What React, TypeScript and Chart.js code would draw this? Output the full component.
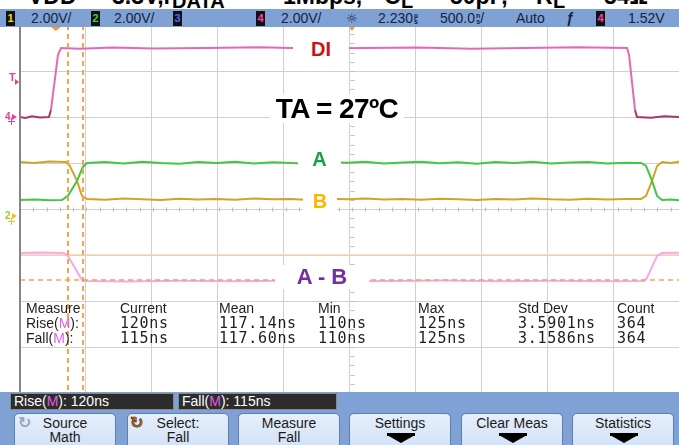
import React, { useEffect, useRef } from "react";
import { Chart, registerables } from "chart.js";

Chart.register(...registerables);

// ---- Scope settings (time in ns, 500 ns/div; volts on screen, 2 V/div) ----
const TIME_MAX = 4962;
const TIME_STEP = 500;
const VOLT_MIN = -8;
const VOLT_MAX = 8;
const VOLT_STEP = 2;
const SCREEN_CENTER_TIME = 2500;

// ---- Waveforms [time ns, volts on screen] ----
const TRACE_DI: [number, number][] = [
  [0, 4.0], [40, 3.96], [90, 4.03], [150, 3.98], [218, 4.0], [233, 4.3], [286, 6.7], [309, 7.0],
  [450, 6.97], [700, 7.02], [1000, 6.98], [1400, 7.0], [1800, 7.03], [2200, 6.98], [2600, 7.0],
  [3000, 7.02], [3400, 6.97], [3800, 7.0], [4200, 7.03], [4571, 7.0], [4586, 6.7], [4631, 4.3],
  [4646, 4.0], [4750, 3.97], [4850, 4.03], [4962, 4.0],
];
const TRACE_A: [number, number][] = [
  [0, 0.39], [110, 0.41], [220, 0.38], [316, 0.39], [361, 0.57], [429, 1.22], [474, 1.83], [505, 2.0],
  [640, 2.04], [780, 1.98], [920, 2.05], [1060, 2.0], [1200, 1.97], [1340, 2.04], [1480, 2.0],
  [1620, 2.05], [1760, 1.98], [1900, 2.03], [2040, 2.0], [2180, 1.97], [2320, 2.04], [2460, 2.01],
  [2600, 2.05], [2740, 1.98], [2880, 2.02], [3020, 2.05], [3160, 1.99], [3300, 2.03], [3440, 1.97],
  [3580, 2.04], [3720, 2.0], [3860, 2.05], [4000, 1.98], [4140, 2.02], [4280, 2.04], [4420, 1.98],
  [4560, 2.01], [4676, 2.0], [4714, 1.87], [4759, 1.22], [4797, 0.57], [4834, 0.39], [4900, 0.41],
  [4962, 0.38],
];
const TRACE_B: [number, number][] = [
  [0, 2.04], [110, 2.0], [220, 2.07], [346, 2.04], [376, 1.87], [429, 1.22], [467, 0.57], [505, 0.43],
  [640, 0.4], [780, 0.46], [920, 0.42], [1060, 0.39], [1200, 0.45], [1340, 0.41], [1480, 0.44],
  [1620, 0.4], [1760, 0.46], [1900, 0.42], [2040, 0.44], [2180, 0.39], [2320, 0.45], [2460, 0.42],
  [2600, 0.46], [2740, 0.41], [2880, 0.44], [3020, 0.4], [3160, 0.45], [3300, 0.42], [3440, 0.39],
  [3580, 0.44], [3720, 0.41], [3860, 0.46], [4000, 0.42], [4140, 0.4], [4280, 0.45], [4420, 0.41],
  [4560, 0.43], [4676, 0.43], [4714, 0.57], [4759, 1.22], [4797, 1.87], [4834, 2.04], [4900, 2.0],
  [4962, 2.06],
];
const TRACE_A_MINUS_B: [number, number][] = [
  [0, -1.91], [150, -1.89], [331, -1.91], [361, -2.04], [467, -3.09], [497, -3.13], [800, -3.15],
  [1200, -3.12], [1600, -3.14], [2000, -3.12], [2400, -3.15], [2800, -3.13], [3200, -3.11],
  [3600, -3.14], [4000, -3.12], [4400, -3.14], [4699, -3.13], [4721, -3.0], [4797, -2.04],
  [4834, -1.91], [4962, -1.9],
];
const THRESHOLD_UPPER = -2.0;
const THRESHOLD_LOWER = -3.09;
const CURSOR_TIMES = [361, 474];
const TRIGGER_TIME = 270;

// ---- Text content ----
const CHANNEL_SCALES = ["2.00V/", "2.00V/", "2.00V/"];
const TIME_DELAY = "2.230";
const TIME_SCALE = "500.0";
const TRIGGER_MODE = "Auto";
const TRIGGER_LEVEL = "1.52V";
const MEAS_HEADERS = ["Current", "Mean", "Min", "Max", "Std Dev", "Count"];
const RISE_VALUES = ["120ns", "117.14ns", "110ns", "125ns", "3.5901ns", "364"];
const FALL_VALUES = ["115ns", "117.60ns", "110ns", "125ns", "3.1586ns", "364"];
const BUTTON_LINE1 = ["Source", "Select:", "Measure", "Settings", "Clear Meas", "Statistics"];
const BUTTON_LINE2 = ["Math", "Fall", "Fall", "", "", ""];

// ---- Layout (page pixels) ----
const COL_X = [120, 219, 318, 418, 518, 617];
const BTN_X = [14, 127, 238, 349, 461, 572];

const SANS = '"Liberation Sans", Arial, Helvetica, sans-serif';
const MONO = '"DejaVu Sans Mono", "Liberation Mono", monospace';
const BLUE = "#7fa1d3";

const scopePlugin = {
  id: "scopeDecor",
  beforeDatasetsDraw(chart: any) {
    const { ctx, scales } = chart;
    const x = scales.x;
    const y = scales.y;
    ctx.save();
    ctx.strokeStyle = "#bdbdbd";
    ctx.lineWidth = 1;
    const y0 = Math.round(y.getPixelForValue(0)) + 0.5;
    for (let i = 0; i * (TIME_STEP / 5) <= TIME_MAX; i++) {
      const px = Math.round(x.getPixelForValue(i * (TIME_STEP / 5))) + 0.5;
      ctx.beginPath();
      ctx.moveTo(px, y0 - 2);
      ctx.lineTo(px, y0 + 2);
      ctx.stroke();
    }
    const xc = Math.round(x.getPixelForValue(SCREEN_CENTER_TIME)) + 0.5;
    const n = ((VOLT_MAX - VOLT_MIN) / VOLT_STEP) * 5;
    for (let i = 0; i <= n; i++) {
      const py = Math.round(y.getPixelForValue(VOLT_MIN + (i * VOLT_STEP) / 5)) + 0.5;
      ctx.beginPath();
      ctx.moveTo(xc - 2, py);
      ctx.lineTo(xc + 2, py);
      ctx.stroke();
    }
    ctx.restore();
  },
  afterDatasetsDraw(chart: any) {
    const { ctx, chartArea, scales } = chart;
    const x = scales.x;
    ctx.save();
    ctx.strokeStyle = "#f6a44a";
    ctx.lineWidth = 2;
    ctx.setLineDash([5, 4]);
    CURSOR_TIMES.forEach((t) => {
      const px = Math.round(x.getPixelForValue(t));
      ctx.beginPath();
      ctx.moveTo(px, chartArea.top);
      ctx.lineTo(px, chartArea.bottom);
      ctx.stroke();
    });
    ctx.setLineDash([]);
    ctx.fillStyle = "#f29a2e";
    [TRIGGER_TIME, SCREEN_CENTER_TIME].forEach((t, i) => {
      const px = x.getPixelForValue(t);
      const w = i === 0 ? 5 : 3;
      ctx.beginPath();
      ctx.moveTo(px - w, chartArea.top + 2);
      ctx.lineTo(px + w, chartArea.top + 2);
      ctx.lineTo(px, chartArea.top + 6);
      ctx.closePath();
      ctx.fill();
    });
    ctx.restore();
  },
};

function ChanBox({ left, num, color }: { left: number; num: string; color: string }) {
  return (
    <div
      style={{
        position: "absolute", left, top: 11, width: 9, height: 15, background: "#111",
        color, fontFamily: SANS, fontWeight: "bold", fontSize: 11, lineHeight: "15px", textAlign: "center",
      }}
    >
      {num}
    </div>
  );
}

function BarText({ left, children }: { left: number; children: any }) {
  return (
    <div
      style={{
        position: "absolute", left, top: 9, height: 18, lineHeight: "18px", fontFamily: SANS,
        fontSize: 14, color: "#15223f", whiteSpace: "nowrap",
      }}
    >
      {children}
    </div>
  );
}

function Unit({ a, b }: { a: string; b: string }) {
  return (
    <span
      style={{
        display: "inline-block", fontSize: 7, lineHeight: "6px", verticalAlign: "middle",
        marginLeft: 1, textAlign: "center", fontWeight: "bold",
      }}
    >
      {a}
      <br />
      {b}
    </span>
  );
}

function Label({ left, top, width, height, size, color, text }: any) {
  return (
    <div
      style={{
        position: "absolute", left, top, width, height, lineHeight: height + "px", background: "#fff",
        textAlign: "center", fontFamily: SANS, fontWeight: "bold", fontSize: size, color, whiteSpace: "nowrap",
        letterSpacing: size > 24 ? -0.6 : 0,
      }}
    >
      {text}
    </div>
  );
}

function TitlePiece({ left, text, sub }: { left: number; text: string; sub?: boolean }) {
  return (
    <div
      style={{
        position: "absolute", left, top: sub ? -9 : -16, fontFamily: SANS, fontWeight: "bold",
        fontSize: sub ? 20 : 23, lineHeight: sub ? "20px" : "24px", color: "#000", whiteSpace: "nowrap",
      }}
    >
      {text}
    </div>
  );
}

const M = () => <span style={{ color: "#e25ee2" }}>M</span>;

export default function App() {
  const ref = useRef<HTMLCanvasElement>(null);

  useEffect(() => {
    const pts = (arr: [number, number][]) => arr.map(([t, v]) => ({ x: t, y: v }));
    const line = (v: number) => [{ x: 0, y: v }, { x: TIME_MAX, y: v }];
    const chart = new Chart(ref.current as HTMLCanvasElement, {
      type: "line",
      data: {
        datasets: [
          {
            label: "DI", data: pts(TRACE_DI), borderColor: "#e468b6", borderWidth: 2,
            segment: {
              borderColor: (c: any) => (c.p0.parsed.y < 5 && c.p1.parsed.y < 5 ? "#a8366f" : undefined),
            },
          },
          { label: "A", data: pts(TRACE_A), borderColor: "#44c646", borderWidth: 2 },
          { label: "B", data: pts(TRACE_B), borderColor: "#d4a326", borderWidth: 2 },
          { label: "Lower", data: line(THRESHOLD_LOWER), borderColor: "#f2a456", borderWidth: 1.5, borderDash: [5, 4] },
          { label: "A - B", data: pts(TRACE_A_MINUS_B), borderColor: "#f4a9ec", borderWidth: 2 },
          { label: "Upper", data: line(THRESHOLD_UPPER), borderColor: "#f5d2ad", borderWidth: 1.5 },
        ] as any,
      },
      options: {
        animation: false,
        responsive: false,
        maintainAspectRatio: false,
        layout: { padding: 0 },
        events: [],
        elements: { point: { radius: 0, hitRadius: 0 }, line: { tension: 0, fill: false } },
        plugins: { legend: { display: false }, tooltip: { enabled: false } },
        scales: {
          x: {
            type: "linear", min: 0, max: TIME_MAX,
            afterFit: (s: any) => { s.height = 0; },
            ticks: { display: false, stepSize: TIME_STEP, includeBounds: false },
            grid: { color: "#d0d0d0", drawTicks: false },
            border: { display: false },
          },
          y: {
            type: "linear", min: VOLT_MIN, max: VOLT_MAX,
            afterFit: (s: any) => { s.width = 0; },
            ticks: { display: false, stepSize: VOLT_STEP, includeBounds: false },
            grid: { color: "#d0d0d0", drawTicks: false },
            border: { display: false },
          },
        },
      } as any,
      plugins: [scopePlugin],
    });
    return () => chart.destroy();
  }, []);

  return (
    <div
      style={{
        position: "fixed", left: 0, top: 0, width: 679, height: 445, overflow: "hidden",
        background: "#fff", fontFamily: SANS,
      }}
    >
      {/* cropped caption */}
      <TitlePiece left={28} text="VDD" />
      <TitlePiece left={88} text="=" />
      <TitlePiece left={112} text="3.3V," />
      <TitlePiece left={163} text="f" />
      <TitlePiece left={172} text="DATA" sub />
      <TitlePiece left={248} text="=" />
      <TitlePiece left={283} text="1Mbps," />
      <TitlePiece left={384} text="C" />
      <TitlePiece left={401} text="L" sub />
      <TitlePiece left={420} text="=" />
      <TitlePiece left={450} text="50pF," />
      <TitlePiece left={536} text="R" />
      <TitlePiece left={553} text="L" sub />
      <TitlePiece left={574} text="=" />
      <TitlePiece left={604} text="54Ω" />

      <canvas ref={ref} width={659} height={368} style={{ position: "absolute", left: 20, top: 25 }} />

      {/* left border */}
      <div style={{ position: "absolute", left: 19, top: 27, width: 2, height: 366, background: "#868686" }} />

      {/* top status bar */}
      <div style={{ position: "absolute", left: 0, top: 9, width: 679, height: 18, background: BLUE }} />
      <ChanBox left={6} num="1" color="#f0e000" />
      <BarText left={31}>{CHANNEL_SCALES[0]}</BarText>
      <ChanBox left={91} num="2" color="#3fd03f" />
      <BarText left={114}>{CHANNEL_SCALES[1]}</BarText>
      <ChanBox left={173} num="3" color="#4a6cff" />
      <ChanBox left={256} num="4" color="#ff3fa6" />
      <BarText left={281}>{CHANNEL_SCALES[2]}</BarText>
      <BarText left={346}>
        <span style={{ fontFamily: '"DejaVu Sans", sans-serif', fontSize: 13 }}>☼</span>
      </BarText>
      <BarText left={378}>
        {TIME_DELAY}
        <Unit a="µ" b="s" />
      </BarText>
      <BarText left={440}>
        {TIME_SCALE}
        <Unit a="n" b="s" />/
      </BarText>
      <BarText left={516}>{TRIGGER_MODE}</BarText>
      <BarText left={566}>
        <span style={{ fontStyle: "italic", fontWeight: "bold" }}>ƒ</span>
      </BarText>
      <ChanBox left={596} num="4" color="#ff3fa6" />
      <BarText left={628}>{TRIGGER_LEVEL}</BarText>

      {/* channel markers on the left */}
      <div style={{ position: "absolute", left: 9, top: 72, fontSize: 11, fontWeight: "bold", color: "#e0409a", lineHeight: "11px" }}>T</div>
      <div style={{ position: "absolute", left: 15, top: 79, width: 0, height: 0, borderTop: "3px solid transparent", borderBottom: "3px solid transparent", borderLeft: "4px solid #e0409a" }} />
      <div style={{ position: "absolute", left: 5, top: 111, fontSize: 10, fontWeight: "bold", color: "#e0409a", lineHeight: "11px" }}>4</div>
      <div style={{ position: "absolute", left: 12, top: 114, width: 0, height: 0, borderTop: "3px solid transparent", borderBottom: "3px solid transparent", borderLeft: "5px solid #e0409a" }} />
      <div style={{ position: "absolute", left: 8, top: 121, width: 7, height: 1, background: "#e0409a" }} />
      <div style={{ position: "absolute", left: 11, top: 118, width: 1, height: 7, background: "#e0409a" }} />
      <div style={{ position: "absolute", left: 5, top: 210, fontSize: 10, fontWeight: "bold", color: "#9ccc20", lineHeight: "11px" }}>2</div>
      <div style={{ position: "absolute", left: 12, top: 213, width: 0, height: 0, borderTop: "3px solid transparent", borderBottom: "3px solid transparent", borderLeft: "5px solid #f0c020" }} />
      <div style={{ position: "absolute", left: 8, top: 221, width: 7, height: 1, background: "#f0c020" }} />
      <div style={{ position: "absolute", left: 11, top: 218, width: 1, height: 7, background: "#f0c020" }} />

      {/* waveform labels */}
      <Label left={293} top={38} width={56} height={22} size={20} color="#cc1414" text="DI" />
      <Label left={270} top={94} width={134} height={29} size={28} color="#000" text="TA = 27ºC" />
      <Label left={298} top={148} width={43} height={22} size={20} color="#16a24a" text="A" />
      <Label left={303} top={190} width={34} height={23} size={20} color="#ffb400" text="B" />
      <Label left={275} top={265} width={94} height={24} size={22} color="#7030a0" text="A - B" />

      {/* measurement table */}
      <div style={{ position: "absolute", left: 26, top: 301, fontSize: 14, lineHeight: "15px", color: "#1e1e1e", whiteSpace: "nowrap" }}>
        <div>Measure</div>
        <div>Rise(<M />):</div>
        <div>Fall(<M />):</div>
      </div>
      {MEAS_HEADERS.map((h, i) => (
        <div key={h} style={{ position: "absolute", left: COL_X[i], top: 301, fontSize: 14, lineHeight: "15px", color: "#1e1e1e", whiteSpace: "nowrap" }}>
          <div>{h}</div>
          <div style={{ fontFamily: MONO, fontSize: 15, letterSpacing: 0.7 }}>{RISE_VALUES[i]}</div>
          <div style={{ fontFamily: MONO, fontSize: 15, letterSpacing: 0.7 }}>{FALL_VALUES[i]}</div>
        </div>
      ))}

      {/* bottom softkey area */}
      <div style={{ position: "absolute", left: 0, top: 392, width: 679, height: 53, background: BLUE }} />
      <div style={{ position: "absolute", left: 10, top: 393, width: 159, height: 15, background: "#2c2c2c", border: "1px solid #8a8a8a", color: "#fff", fontSize: 14, lineHeight: "15px", paddingLeft: 3, boxSizing: "content-box", whiteSpace: "nowrap" }}>
        Rise(<M />): {RISE_VALUES[0]}
      </div>
      <div style={{ position: "absolute", left: 178, top: 393, width: 154, height: 15, background: "#2c2c2c", border: "1px solid #8a8a8a", color: "#fff", fontSize: 14, lineHeight: "15px", paddingLeft: 3, whiteSpace: "nowrap" }}>
        Fall(<M />): {FALL_VALUES[0]}
      </div>
      {BUTTON_LINE1.map((t, i) => (
        <div
          key={t}
          style={{
            position: "absolute", left: BTN_X[i], top: 413, width: 102, height: 40, boxSizing: "border-box",
            border: "1px solid #5d7fb3", borderRadius: 5, background: "linear-gradient(#e6effb, #cfe0f5)",
            textAlign: "center", fontSize: 14, lineHeight: "14px", color: "#1a1a1a", paddingTop: 2,
          }}
        >
          <div>{t}</div>
          {BUTTON_LINE2[i] ? (
            <div>{BUTTON_LINE2[i]}</div>
          ) : (
            <div style={{ position: "relative", height: 12 }}>
              <div style={{ position: "absolute", left: 37, top: 3, width: 28, height: 3, background: "#000" }} />
              <div style={{ position: "absolute", left: 37, top: 5, width: 0, height: 0, borderLeft: "14px solid transparent", borderRight: "14px solid transparent", borderTop: "8px solid #000" }} />
            </div>
          )}
          {i < 2 && (
            <div
              style={{
                position: "absolute", left: i === 0 ? 3 : 2, top: 2, fontFamily: '"DejaVu Sans", sans-serif',
                fontSize: 16, fontWeight: "bold", color: i === 0 ? "#9aa7b6" : "#e06a10",
                WebkitTextStroke: i === 1 ? "0.6px #222" : undefined,
              }}
            >
              ↻
            </div>
          )}
        </div>
      ))}
    </div>
  );
}
